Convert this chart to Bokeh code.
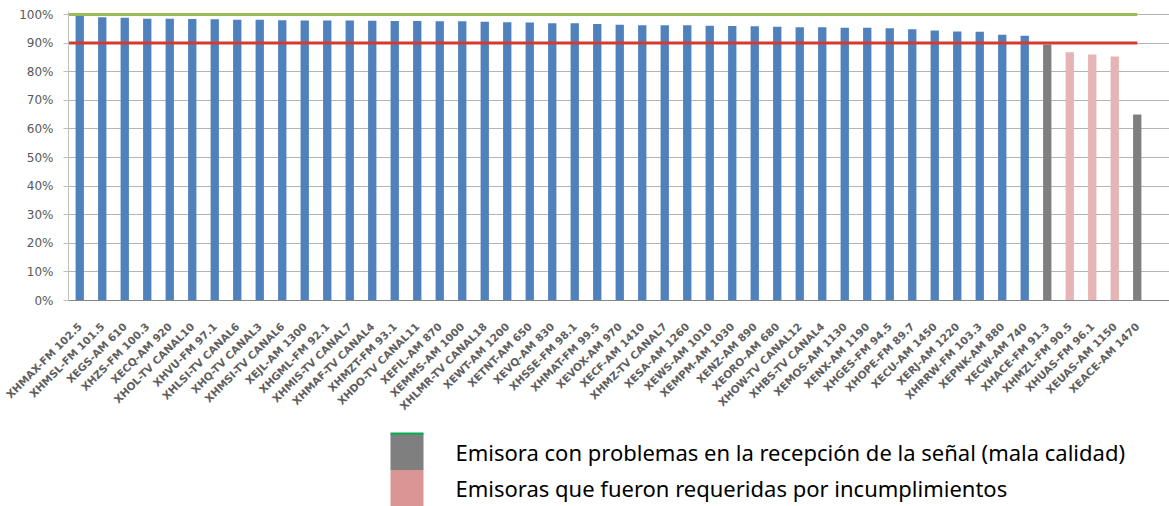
from bokeh.plotting import figure
from bokeh.models import ColumnDataSource, Range1d, FixedTicker
from bokeh.layouts import column
from bokeh.core.properties import value
from bokeh.embed import file_html
from bokeh.resources import INLINE
import math

stations = [
    "XHMAX-FM 102.5", "XHMSL-FM 101.5", "XEGS-AM 610", "XHZS-FM 100.3", "XECQ-AM 920",
    "XHOL-TV CANAL10", "XHVU-FM 97.1", "XHLSI-TV CANAL6", "XHQ-TV CANAL3", "XHMSI-TV CANAL6",
    "XEJL-AM 1300", "XHGML-FM 92.1", "XHMIS-TV CANAL7", "XHMAF-TV CANAL4", "XHMZT-FM 93.1",
    "XHDO-TV CANAL11", "XEFIL-AM 870", "XEMMS-AM 1000", "XHLMR-TV CANAL18", "XEWT-AM 1200",
    "XETNT-AM 650", "XEVQ-AM 830", "XHSSE-FM 98.1", "XHMAT-FM 99.5", "XEVOX-AM 970",
    "XECF-AM 1410", "XHMZ-TV CANAL7", "XESA-AM 1260", "XEWS-AM 1010", "XEMPM-AM 1030",
    "XENZ-AM 890", "XEORO-AM 680", "XHOW-TV CANAL12", "XHBS-TV CANAL4", "XEMOS-AM 1130",
    "XENX-AM 1190", "XHGES-FM 94.5", "XHOPE-FM 89.7", "XECU-AM 1450", "XERJ-AM 1220",
    "XHRRW-FM 103.3", "XEPNK-AM 880", "XECW-AM 740", "XHACE-FM 91.3", "XHMZL-FM 90.5",
    "XHUAS-FM 96.1", "XEUAS-AM 1150", "XEACE-AM 1470",
]
values = [
    99.7, 99.0, 98.9, 98.5, 98.5, 98.4, 98.3, 98.2, 98.2, 98.0,
    97.9, 97.9, 97.9, 97.8, 97.7, 97.7, 97.6, 97.6, 97.5, 97.3,
    97.2, 96.9, 96.9, 96.7, 96.4, 96.2, 96.2, 96.2, 96.1, 96.0,
    95.9, 95.7, 95.5, 95.5, 95.4, 95.4, 95.2, 94.8, 94.4, 94.1,
    94.0, 92.9, 92.6, 89.5, 86.8, 86.0, 85.3, 65.0,
]
# status: "ok", "mala" (signal problems), "req" (required for non-compliance)
status = ["ok"] * 43 + ["mala", "req", "req", "req", "mala"]
y_ticks = [0, 10, 20, 30, 40, 50, 60, 70, 80, 90, 100]
y_tick_labels = ["0%", "10%", "20%", "30%", "40%", "50%", "60%", "70%", "80%", "90%", "100%"]
target_line = 100
min_line = 90
legend_keys = ["mala", "req"]
legend_labels = ["Emisora con problemas en la recepción de la señal (mala calidad)",
                 "Emisoras que fueron requeridas por incumplimientos"]

colors = {"ok": "#4f81bd", "mala": "#7f7f7f", "req": "#e6b4b4"}
legend_colors = {"mala": "#7f7f7f", "req": "#d99694"}
xs = list(range(1, len(stations) + 1))

W = 1169
H_MAIN = 428
H_LEG = 506 - H_MAIN
LEFT = 68

p = figure(width=W, height=H_MAIN, output_backend="svg", toolbar_location=None,
           x_range=Range1d(0.5, 0.5 + (W - LEFT) / 22.5), y_range=Range1d(0, 101.05),
           min_border_left=LEFT, min_border_right=0, min_border_top=11,
           min_border_bottom=H_MAIN - 300)
p.outline_line_color = None
p.background_fill_color = "white"

for key in ["ok", "mala", "req"]:
    sx = [x for x, s in zip(xs, status) if s == key]
    sv = [v for v, s in zip(values, status) if s == key]
    src = ColumnDataSource(dict(x=sx, top=sv))
    p.vbar(x="x", top="top", width=0.37, source=src,
           fill_color=colors[key], line_color=None)

p.line(x=[0.5, xs[-1]], y=[target_line, target_line], line_color="#9bbb59", line_width=3)
p.line(x=[0.5, xs[-1]], y=[min_line, min_line], line_color="#d63a2f", line_width=3)

p.xaxis.ticker = FixedTicker(ticks=xs)
p.xaxis.major_label_overrides = {x: s for x, s in zip(xs, stations)}
p.xaxis.major_label_orientation = math.pi / 4
p.xaxis.major_tick_line_color = None
p.xaxis.minor_tick_line_color = None
p.xaxis.axis_line_color = "#868686"
p.xaxis.major_label_text_font = "DejaVu Sans"
p.xaxis.major_label_text_font_size = "10.5px"
p.xaxis.major_label_text_font_style = "bold"
p.xaxis.major_label_text_color = "#606060"
p.xaxis.major_label_standoff = 18

p.yaxis.ticker = FixedTicker(ticks=y_ticks)
p.yaxis.major_label_overrides = {t: l for t, l in zip(y_ticks, y_tick_labels)}
p.yaxis.axis_line_color = "#bfbfbf"
p.yaxis.major_tick_line_color = "#bfbfbf"
p.yaxis.major_tick_out = 5
p.yaxis.major_tick_in = 0
p.yaxis.minor_tick_line_color = None
p.yaxis.major_label_text_font = "DejaVu Sans"
p.yaxis.major_label_text_font_size = "12px"
p.yaxis.major_label_text_color = "#595959"
p.yaxis.major_label_standoff = 10

p.xgrid.grid_line_color = None
p.ygrid.grid_line_color = "#b4b4b4"
p.ygrid.ticker = FixedTicker(ticks=y_ticks)

# legend panel (pixel-like coordinates, y up); frame aligned with main frame
leg = figure(width=W, height=H_LEG, output_backend="svg", toolbar_location=None,
             x_range=Range1d(LEFT, W), y_range=Range1d(0, H_LEG),
             x_axis_location=None, y_axis_location=None,
             min_border_left=LEFT, min_border_right=0,
             min_border_top=0, min_border_bottom=0)
leg.grid.visible = False
leg.outline_line_color = None

box_left, box_right = 390, 423
box_h = 36.5
tops = [H_LEG - 5, H_LEG - 5 - box_h]
leg.quad(left=[box_left] * 2, right=[box_right] * 2,
         top=tops, bottom=[t - box_h for t in tops],
         fill_color=[legend_colors[k] for k in legend_keys], line_color=None)
leg.line(x=[box_left, box_right], y=[tops[0], tops[0]], line_color="#00b050", line_width=2)
leg.text(x=[455, 455], y=[t - box_h / 2 for t in tops], text=legend_labels,
         text_font=value("Noto Sans"), text_font_size="22px", text_color="#000000",
         text_baseline="middle", text_align="left")

layout = column(p, leg, spacing=0)
open("out.html", "w").write(file_html(layout, INLINE))
